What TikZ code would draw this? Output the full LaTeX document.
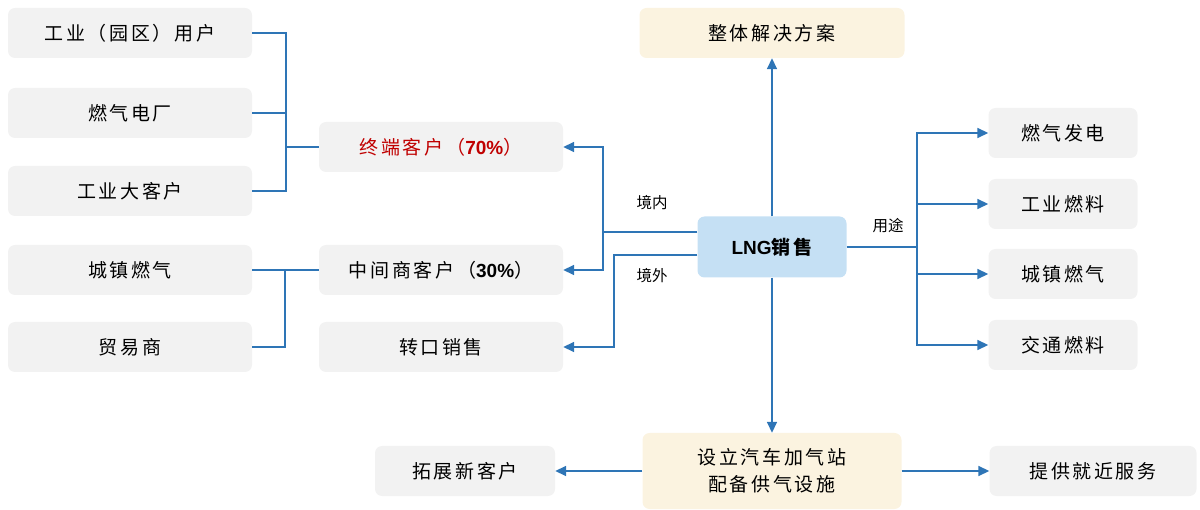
\documentclass[tikz,border=0pt]{standalone}
\usepackage{fontspec}
\setmainfont{Liberation Sans}
\newfontfamily\cjk[LetterSpace=14]{Noto Sans CJK SC}
\newfontfamily\cjklbl{Noto Sans CJK SC}
\usetikzlibrary{arrows.meta}
\definecolor{linkblue}{RGB}{46,117,182}
\definecolor{boxgray}{RGB}{242,242,242}
\definecolor{lngblue}{RGB}{197,224,244}
\definecolor{cream}{RGB}{251,243,224}
\definecolor{darkred}{RGB}{192,0,0}
\newcommand{\lat}[1]{{\rmfamily\bfseries #1}}
\tikzset{
  box/.style={fill=boxgray, rounded corners=7pt, minimum height=50pt, inner sep=0pt,
    font=\cjk\fontsize{19}{27}\selectfont},
  link/.style={draw=linkblue, line width=1.6pt},
  arr/.style={link, -{Triangle[length=11pt,width=10pt]}},
  lbl/.style={font=\cjklbl\fontsize{15.5}{18}\selectfont}
}

\begin{document}
\begin{tikzpicture}[x=1pt,y=-1pt]
	\useasboundingbox (0,0) rectangle (1200,510);

	% left column
	\node[box, minimum width=244pt] (gyyq) at (130,33) {工业（园区）用户};
	\node[box, minimum width=244pt] (rqdc) at (130,113) {燃气电厂};
	\node[box, minimum width=244pt] (gydkh) at (130,191) {工业大客户};
	\node[box, minimum width=244pt] (czrq) at (130,270) {城镇燃气};
	\node[box, minimum width=244pt] (mys) at (130,347) {贸易商};

	% customer groups
	\node[box, minimum width=244pt, text=darkred] (zdkh) at (441,147) {终端客户（\lat{70\%}）};
	\node[box, minimum width=244pt] (zjs) at (441,270) {中间商客户（\lat{30\%}）};
	\node[box, minimum width=244pt] (zkxs) at (441,347) {转口销售};

	% centre
	\node[box, fill=lngblue, minimum width=149pt, minimum height=61pt] (lng) at (772,247) {\lat{LNG}\bfseries 销售};
	\node[box, fill=cream, minimum width=265pt] (ztjj) at (772,33) {整体解决方案};
	\node[box, fill=cream, minimum width=259pt, minimum height=76pt, align=center] (jqz) at (772,471) {设立汽车加气站\\配备供气设施};
	\node[box, minimum width=180pt] (tzxkh) at (465,471) {拓展新客户};
	\node[box, minimum width=207pt] (tgjj) at (1093,471) {提供就近服务};

	% uses
	\node[box, minimum width=149pt] (rqfd) at (1063,133) {燃气发电};
	\node[box, minimum width=149pt] (gyrl) at (1063,204) {工业燃料};
	\node[box, minimum width=149pt] (czrq2) at (1063,274) {城镇燃气};
	\node[box, minimum width=149pt] (jtrl) at (1063,345) {交通燃料};

	\node[lbl] (jnl) at (652,203) {境内};
	\node[lbl] (jwl) at (652,276) {境外};
	\node[lbl] (ytl) at (888,226) {用途};

	% brackets on the left
	\coordinate (lj) at (286,147);
	\coordinate (rj) at (285,270);
	\draw[link] (gyyq.east) -| (lj) |- (gydkh.east);
	\draw[link] (rqdc.east) -- (rqdc.east -| lj);
	\draw[link] (lj) -- (zdkh.west);
	\draw[link] (czrq.east) -- (zjs.west);
	\draw[link] (rj) |- (mys.east);

	% LNG to markets
	\coordinate (jn) at (603,232);
	\coordinate (jw) at (614,255);
	\draw[link, line width=2.4pt] (lng.west |- jn) -- (jn);
	\draw[arr] (jn) |- (zdkh.east);
	\draw[arr] (jn) |- (zjs.east);
	\draw[arr] (lng.west |- jw) -- (jw) |- (zkxs.east);

	\draw[arr] (lng.north) -- (ztjj.south);
	\draw[arr] (lng.south) -- (jqz.north);
	\draw[arr] (jqz.west) -- (tzxkh.east);
	\draw[arr] (jqz.east) -- (tgjj.west);

	\coordinate (yt) at (917,247);
	\draw[link] (lng.east) -- (yt);
	\foreach \n in {rqfd,gyrl,czrq2,jtrl}
		\draw[arr] (yt) |- (\n.west);
\end{tikzpicture}
\end{document}
